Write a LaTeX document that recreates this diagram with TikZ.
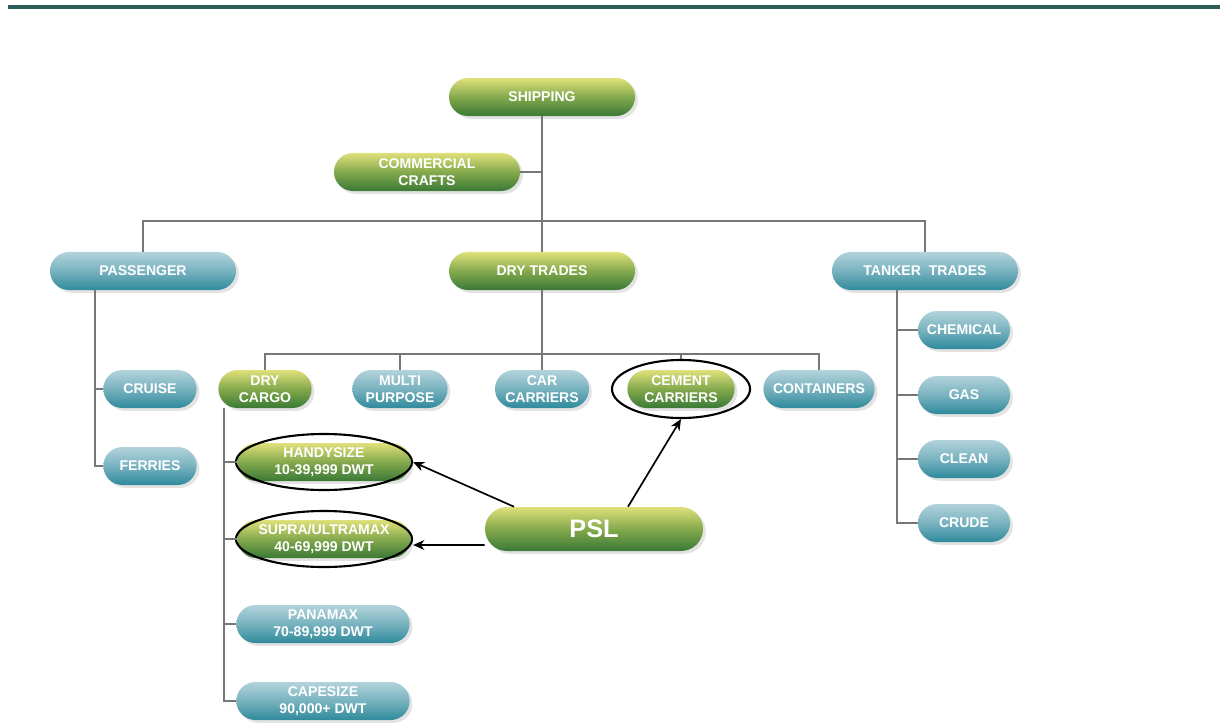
\documentclass[tikz,border=0pt]{standalone}
\usepackage{fontspec}
\setmainfont{Liberation Sans}
\usetikzlibrary{shapes.geometric,arrows.meta,shadows}
\definecolor{gtop}{HTML}{E0E07A}
\definecolor{gmid}{HTML}{84A94C}
\definecolor{gbot}{HTML}{3A7936}
\definecolor{btop}{HTML}{B2D3DB}
\definecolor{bmid}{HTML}{78B2BF}
\definecolor{bbot}{HTML}{2E8A9B}
\definecolor{linkgray}{HTML}{777777}
\definecolor{topline}{HTML}{2D5E5C}
\begin{document}
\begin{tikzpicture}[x=0.025cm, y=-0.025cm,
    every node/.style={font=\bfseries\fontsize{10}{12}\selectfont, text=white, align=center},
    pill/.style={rounded corners=0.475cm, minimum height=0.95cm, inner sep=2pt,
      drop shadow={shadow xshift=2pt, shadow yshift=-2pt, opacity=0.22}},
    grn/.style={pill, top color=gtop, bottom color=gbot, middle color=gmid},
    blu/.style={pill, top color=btop, bottom color=bbot, middle color=bmid},
    link/.style={draw=linkgray, line width=1.1pt},
    ring/.style={draw, ellipse, line width=1.5pt, inner sep=0pt,
      minimum width=4.4cm, minimum height=1.4cm},
    arr/.style={draw, line width=1.2pt, -{Stealth[length=8pt, width=7pt]}},
  ]
  \fill[white] (0,0) rectangle (1220,723);
  \useasboundingbox (0,0) rectangle (1220,723);
  \draw[topline, line width=2.4pt] (8,7) -- (1220,7);

  % top levels
  \node[grn, minimum width=4.65cm] (ship)  at (542,97)  {SHIPPING};
  \node[grn, minimum width=4.65cm] (craft) at (427,172) {COMMERCIAL\\CRAFTS};
  \node[blu, minimum width=4.65cm] (pass)  at (143,271) {PASSENGER};
  \node[grn, minimum width=4.65cm] (dry)   at (542,271) {DRY TRADES};
  \node[blu, minimum width=4.65cm] (tank)  at (925,271) {TANKER\ \ TRADES};

  \foreach \i/\y/\name in {1/389/CRUISE, 2/466/FERRIES}
    \node[blu, minimum width=2.33cm] (pc\i) at (150,\y) {\name};
  \foreach \i/\y/\name in {1/330/CHEMICAL, 2/395/GAS, 3/459/CLEAN, 4/523/CRUDE}
    \node[blu, minimum width=2.3cm] (tc\i) at (964,\y) {\name};

  % dry trades row
  \node[grn, minimum width=2.33cm] (dc)   at (265,389) {DRY\\CARGO};
  \node[blu, minimum width=2.38cm] (mp)   at (400,389) {MULTI\\PURPOSE};
  \node[blu, minimum width=2.35cm] (car)  at (542,389) {CAR\\CARRIERS};
  \node[grn, minimum width=2.68cm] (cem)  at (681,389) {CEMENT\\CARRIERS};
  \node[blu, minimum width=2.78cm] (cont) at (819,389) {CONTAINERS};

  \node[grn, minimum width=4.33cm] (hs) at (324,462) {HANDYSIZE\\10-39,999 DWT};
  \node[grn, minimum width=4.33cm] (su) at (324,539) {SUPRA/ULTRAMAX\\40-69,999 DWT};
  \node[blu, minimum width=4.33cm] (pm) at (323,624) {PANAMAX\\70-89,999 DWT};
  \node[blu, minimum width=4.33cm] (cs) at (323,701) {CAPESIZE\\90,000+ DWT};

  \node[ring] (hsr) at (hs) {};
  \node[ring] (sur) at (su) {};
  \node[ring, minimum width=3.45cm, minimum height=1.45cm] (cemr) at (cem) {};

  \node[grn, minimum width=5.45cm, minimum height=1.1cm, rounded corners=0.55cm,
    font=\bfseries\fontsize{18}{20}\selectfont] (psl) at (594,529) {PSL};

  % connectors
  \coordinate (bus) at (542,221);
  \coordinate (dbus) at (542,354);
  \draw[link] (ship.south) -- (dry.north);
  \draw[link] (craft.east) -- (craft.east -| ship.south);
  \draw[link] (pass.north) |- (bus) -| (tank.north);
  \draw[link] (dry.south) -- (car.north);
  \draw[link] (dc.north) |- (dbus) -| (cont.north);
  \draw[link] (mp.north) -- (mp.north |- dbus);
  \draw[link] (cemr.north) -- (cemr.north |- dbus);
  \foreach \i in {1,2}
    \draw[link] ([xshift=-1.2cm]pass.south) |- (pc\i.west);
  \foreach \i in {1,...,4}
    \draw[link] ([xshift=-0.7cm]tank.south) |- (tc\i.west);
  \foreach \n in {hs,su,pm,cs}
    \draw[link] ([xshift=-1.03cm]dc.south) |- (\n.west);

  % psl arrows
  \draw[arr] ([xshift=-2cm]psl.north) -- (hsr.east);
  \draw[arr] ([yshift=-0.4cm]psl.west) -- ([yshift=-0.15cm]sur.east);
  \draw[arr] ([xshift=0.85cm]psl.north) -- (cemr.south);
\end{tikzpicture}
\end{document}
